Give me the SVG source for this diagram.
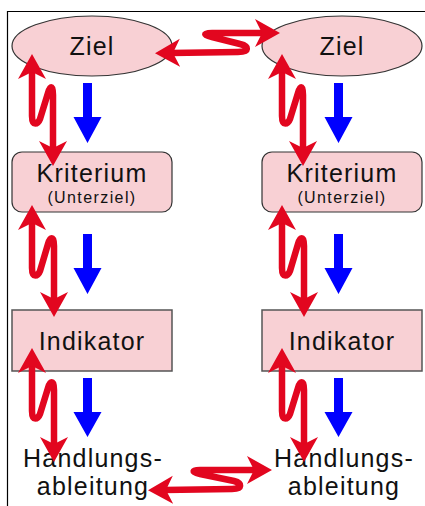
<svg xmlns="http://www.w3.org/2000/svg" width="425" height="506" viewBox="0 0 425 506">
<style>
.shape{fill:#f8d0d4;stroke:#333;stroke-width:1.2}
.box{fill:#f8d0d4;stroke:#555;stroke-width:1.5}
.lbl{font-family:"Liberation Sans",Arial,sans-serif;font-size:25px;letter-spacing:1.2px;fill:#111;text-anchor:middle}
.sub{font-size:16px;letter-spacing:1.4px}
.zig{fill:none;stroke:#e2061f;stroke-width:6.5;stroke-linejoin:round;stroke-linecap:butt;marker-start:url(#head);marker-end:url(#head)}
.down{fill:#0000ff}
.frame{stroke:#000;stroke-width:1.2;fill:none}
</style>
<defs>
<marker id="head" markerUnits="userSpaceOnUse" viewBox="0 -15 27 30" markerWidth="27" markerHeight="30" refX="9" refY="0" orient="auto-start-reverse">
<path d="M25,0 L0,-14 L7,0 L0,14 Z" fill="#e2061f"/>
</marker>
</defs>
<path class="frame" d="M7.5,506 V11.5 H425"/>
<g id="ziel-left"><ellipse class="shape" cx="92" cy="46" rx="80" ry="30"/><text class="lbl" x="92" y="55">Ziel</text></g>
<g id="ziel-right"><ellipse class="shape" cx="342" cy="46" rx="80" ry="30"/><text class="lbl" x="342" y="55">Ziel</text></g>
<g id="kriterium-left"><rect class="shape" x="12" y="152" width="160" height="60" rx="10"/><text class="lbl" x="92" y="182">Kriterium</text><text class="lbl sub" x="92" y="203">(Unterziel)</text></g>
<g id="kriterium-right"><rect class="shape" x="262" y="152" width="160" height="60" rx="10"/><text class="lbl" x="342" y="182">Kriterium</text><text class="lbl sub" x="342" y="203">(Unterziel)</text></g>
<g id="indikator-left"><rect class="box" x="12" y="310" width="160" height="61"/><text class="lbl" x="92" y="350">Indikator</text></g>
<g id="indikator-right"><rect class="box" x="262" y="310" width="160" height="61"/><text class="lbl" x="342" y="350">Indikator</text></g>
<g id="handlung-left"><text class="lbl" x="93" y="467">Handlungs-</text><text class="lbl" x="93" y="495">ableitung</text></g>
<g id="handlung-right"><text class="lbl" x="344" y="467">Handlungs-</text><text class="lbl" x="344" y="495">ableitung</text></g>
<g id="connectors">
<polygon class="down" points="83,83 92,83 92,117 101.5,117 87.5,143 73.5,117 83,117"/>
<polygon class="down" points="83,234 92,234 92,268 101.5,268 87.5,294 73.5,268 83,268"/>
<polygon class="down" points="83,378 92,378 92,412 101.5,412 87.5,437 73.5,412 83,412"/>
<polygon class="down" points="334,83 343,83 343,117 352.5,117 338.5,143 324.5,117 334,117"/>
<polygon class="down" points="334,234 343,234 343,268 352.5,268 338.5,294 324.5,268 334,268"/>
<polygon class="down" points="334,378 343,378 343,412 352.5,412 338.5,437 324.5,412 334,412"/>
<path class="zig" d="M32,70 L32,116 C32,127 38,124 40,119 L48,93 C50,86 53,84 53,95 L53,150"/>
<path class="zig" d="M32,221 L32,268 C32,279 38,276 40,271 L48,244 C50,237 54,235 54,246 L54,301"/>
<path class="zig" d="M32,364 L32,411 C32,422 38,419 40,414 L48,388 C50,381 54,379 54,390 L54,446"/>
<path class="zig" d="M282,70 L282,116 C282,127 288,124 290,119 L298,93 C300,86 303,84 303,95 L303,150"/>
<path class="zig" d="M282,221 L282,268 C282,279 288,276 290,271 L298,244 C300,237 304,235 304,246 L304,301"/>
<path class="zig" d="M282,364 L282,411 C282,422 288,419 290,414 L298,388 C300,381 304,379 304,390 L304,446"/>
<path class="zig" d="M171,53 L238,52 C250,52 249,46 240,44 L212,37 C203,35 203,33 212,33 L264,33"/>
<path class="zig" d="M164,490 L232,489 C243,489 242,483 234,481 L200,474 C191,472 192,470 200,470 L256,470"/>
</g>
</svg>
